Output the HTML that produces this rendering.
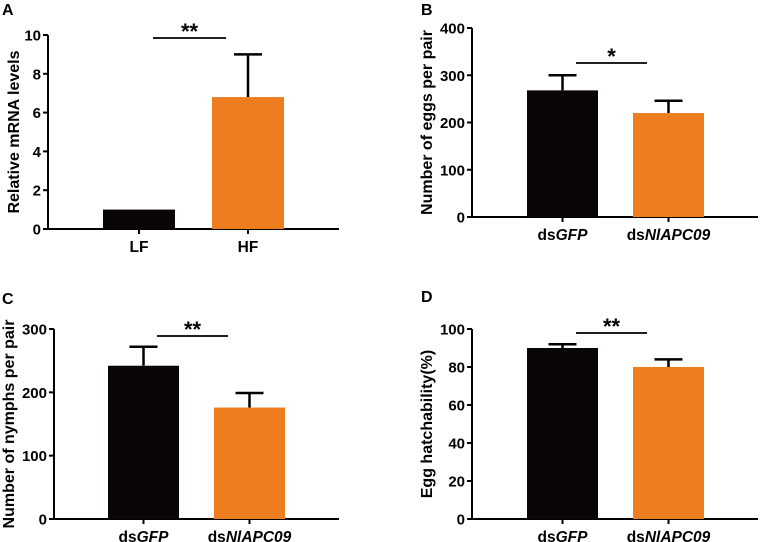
<!DOCTYPE html>
<html><head><meta charset="utf-8"><style>
html,body{margin:0;padding:0;background:#fff}
svg{display:block;font-family:"Liberation Sans",Arial,sans-serif;font-weight:bold}
</style></head><body>
<svg id="fig" width="760" height="542" viewBox="0 0 760 542"></svg>
<script>
const panelLabels = ["A","B","C","D"];
const catsA = ["LF","HF"];
const catsRNAi = ["dsGFP","dsNlAPC09"];
const valuesA = [1, 6.8];
const errorsA = [0, 2.2];
const valuesB = [268, 220];
const errorsB = [32, 26];
const valuesC = [242, 176];
const errorsC = [30, 23];
const valuesD = [90, 80];
const errorsD = [2, 4];
const ticksA = [0,2,4,6,8,10];
const ticksB = [0,100,200,300,400];
const ticksC = [0,100,200,300];
const ticksD = [0,20,40,60,80,100];
const sigA = "**", sigB = "*", sigC = "**", sigD = "**";

const NS = "http://www.w3.org/2000/svg";
const svg = document.getElementById("fig");
function mk(tag, attrs, parent){
  const e = document.createElementNS(NS, tag);
  for (const k in attrs) e.setAttribute(k, attrs[k]);
  (parent||svg).appendChild(e);
  return e;
}
const colors = ["#0a0606","#ee7d1f"];

function panel(p){
  const g = mk("g", {});
  
  
  const lab = mk("text", {x:p.lx, y:p.ly, "font-size":16}, g);
  lab.textContent = p.label;
  
  
  const maxV = p.ticks[p.ticks.length-1];
  const yS = v => p.y0 - (v/maxV)*(p.y0 - p.yTop);
  const ya = mk("line", {x1:p.ax, x2:p.ax, y1:p.yTop, y2:p.y0+1, stroke:"#000","stroke-width":2}, g);
  
  
  p.ticks.forEach(t => {
    const y = yS(t);
    mk("line", {x1:p.ax-5, x2:p.ax, y1:y, y2:y, stroke:"#000","stroke-width":2}, g);
    const tl = mk("text", {x:p.ax-7, y:y+5.5, "font-size":15, "text-anchor":"end"}, g);
    tl.textContent = t;
    
    
  });
  const xa = mk("line", {x1:p.ax-1, x2:p.axEnd, y1:p.y0, y2:p.y0, stroke:"#000","stroke-width":2}, g);
  
  
  const cy = (p.yTop + p.y0)/2;
  const yt = mk("text", {x:p.tx, y:cy, "font-size":16, "text-anchor":"middle", transform:`rotate(-90 ${p.tx} ${cy})`}, g);
  yt.textContent = p.title;
  
  
  p.values.forEach((v,i) => {
    const x0 = p.barX[i], w = p.barW, xc = x0 + w/2;
    const e = p.errors[i];
    if (e > 0) {
      mk("line", {x1:xc, x2:xc, y1:yS(v), y2:yS(v+e), stroke:"#000","stroke-width":2.5}, g);
      mk("line", {x1:xc-14, x2:xc+14, y1:yS(v+e), y2:yS(v+e), stroke:"#000","stroke-width":2.5}, g);
    }
    const r = mk("rect", {x:x0, y:yS(v), width:w, height:p.y0 - yS(v), fill:colors[i]}, g);
    
    
    mk("line", {x1:xc, x2:xc, y1:p.y0, y2:p.y0+5, stroke:"#000","stroke-width":2}, g);
    const cl = mk("text", {x:xc, y:p.y0+23, "font-size":15.5, "text-anchor":"middle"}, g);
    
    
    if (p.cats[i].startsWith("ds")) {
      const t1 = mk("tspan", {}, cl); t1.textContent = "ds";
      const t2 = mk("tspan", {"font-style":"italic"}, cl); t2.textContent = p.cats[i].slice(2);
    } else cl.textContent = p.cats[i];
  });
  const sl = mk("line", {x1:p.sig[0], x2:p.sig[1], y1:p.sig[2], y2:p.sig[2], stroke:"#000","stroke-width":1.8}, g);
  
  
  const st = mk("text", {x:(p.sig[0]+p.sig[1])/2, y:p.sig[2]+1, "font-size":22, "text-anchor":"middle"}, g);
  st.textContent = p.sigText;
  
  
}

panel({label:panelLabels[0], lx:2, ly:15, ax:48, axEnd:339, yTop:35, y0:229, ticks:ticksA, values:valuesA, errors:errorsA, cats:catsA,
  barX:[103,212], barW:72, tx:19, title:"Relative mRNA levels", sig:[153,226,38], sigText:sigA});
panel({label:panelLabels[1], lx:421, ly:15, ax:472, axEnd:758, yTop:28, y0:217, ticks:ticksB, values:valuesB, errors:errorsB, cats:catsRNAi,
  barX:[527,633], barW:71, tx:432, title:"Number of eggs per pair", sig:[576,647,63], sigText:sigB});
panel({label:panelLabels[2], lx:2, ly:304, ax:54, axEnd:339, yTop:329, y0:519, ticks:ticksC, values:valuesC, errors:errorsC, cats:catsRNAi,
  barX:[108,214], barW:71, tx:14, title:"Number of nymphs per pair", sig:[157,228,336], sigText:sigC});
panel({label:panelLabels[3], lx:421, ly:302, ax:472, axEnd:758, yTop:329, y0:519, ticks:ticksD, values:valuesD, errors:errorsD, cats:catsRNAi,
  barX:[527,633], barW:71, tx:432, title:"Egg hatchability(%)", sig:[576,647,333], sigText:sigD});
</script>
</body></html>
